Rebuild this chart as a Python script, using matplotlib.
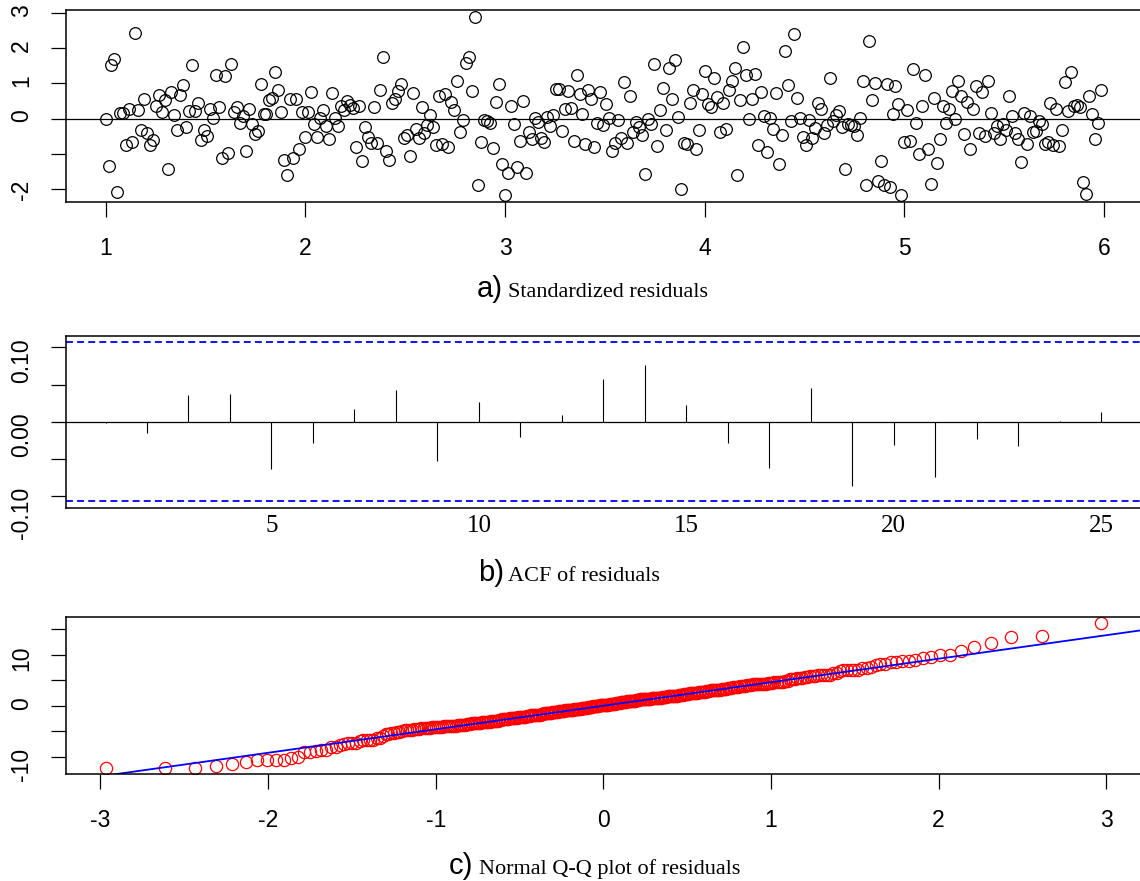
import numpy as np
import matplotlib
matplotlib.use("Agg")
import matplotlib.pyplot as plt
from statistics import NormalDist

# standardized residuals (panel a), in time order
std_resid = [
    0.00, -1.33, 1.53, 1.70, -2.08, 0.17, 0.17, -0.74, 0.26, -0.66,
    2.44, 0.24, -0.31, 0.56, -0.40, -0.74, -0.61, 0.37, 0.67, 0.20,
    0.52, -1.43, 0.75, 0.09, -0.33, 0.68, 0.94, -0.25, 0.23, 1.53,
    0.23, 0.45, -0.61, -0.32, -0.49, 0.27, 0.03, 1.24, 0.32, -1.12,
    1.21, -0.96, 1.56, 0.18, 0.33, -0.11, 0.08, -0.93, 0.28, -0.15,
    -0.43, -0.34, 0.98, 0.14, 0.14, 0.53, 0.58, 1.32, 0.80, 0.20,
    -1.18, -1.59, 0.55, -1.11, 0.55,
    -0.85, 0.18, -0.53, 0.18, 0.75, -0.15, -0.52, 0.03, 0.24, -0.22,
    -0.58, 0.74, 0.03, -0.21, 0.37, 0.24, 0.49, 0.40, 0.31, -0.81,
    0.36, -1.19, -0.23, -0.52, -0.70, 0.32, -0.70, 0.82, 1.75, -0.92,
    -1.17, 0.43, 0.56, 0.78, 0.99, -0.54, -0.46, -1.05, 0.74, -0.30,
    -0.56, 0.33, -0.42, -0.17, 0.10, -0.25, -0.75, 0.63, -0.73, 0.70,
    -0.80, 0.48, 0.25, 1.08, -0.37, -0.03, 1.59, 1.75, 0.77, 2.87,
    -1.87, -0.66, -0.05, -0.08, -0.11, -0.83, 0.47, 0.99,
    -1.29, -2.17, -1.53, 0.36, -0.14, -1.36, -0.64, 0.49, -1.53, -0.38,
    -0.59, 0.03, -0.10, -0.55, -0.65, 0.05, -0.22, 0.11, 0.84, 0.85,
    -0.36, 0.27, 0.77, 0.31, -0.64, 1.24, 0.70, 0.12, -0.72, 0.82,
    0.55, -0.81, -0.13, 0.75, -0.18, 0.42, 0.03, -0.91, -0.68, -0.05,
    -0.55, 1.04, -0.69, 0.65, -0.37, -0.09, -0.24, -0.47, -1.58, -0.02,
    -0.16, 1.54, -0.77, 0.25, 0.88, -0.31, 1.44, 0.57, 1.67, 0.04,
    -2.00, -0.68, -0.71, 0.43, 0.82, -0.85,
    -0.33, 0.69, 1.35, 0.42, 0.33, 1.14, 0.62, -0.39, 0.43, -0.29,
    0.82, 1.06, 1.44, -1.60, 0.52, 2.03, 1.25, 0.00, 0.56, 1.26,
    -0.74, 0.75, 0.08, -0.94, 0.03, -0.29, 0.74, -1.29, -0.46, 1.92,
    0.96, -0.06, 2.40, 0.58, 0.01, -0.53, -0.76, -0.05, -0.56, -0.26,
    0.44, 0.26, -0.42, -0.19, 1.15, -0.07, 0.09, 0.22, -0.24, -1.43,
    -0.14, -0.19, -0.21, -0.45, 0.02, 1.07, -1.87, 2.19, 0.54, 1.02,
    -1.77, -1.19, -1.89, 0.98, -1.94, 0.12, 0.93, 0.42, -2.17,
    -0.66, 0.24, -0.63, 1.42, -0.11, -0.99, 0.35, 1.23, -0.87, -1.86,
    0.58, -1.27, -0.57, 0.37, -0.12, 0.28, 0.77, -0.01, 1.06, 0.65,
    -0.44, 0.47, -0.85, 0.26, 0.93, -0.42, 0.75, -0.49, 1.08, 0.17,
    -0.42, -0.20, -0.58, -0.15, -0.33, 0.64, 0.07, -0.42, -0.59, -1.22,
    0.17, -0.72, 0.07, -0.37, -0.34, -0.06, -0.14, -0.71, -0.65, 0.43,
    -0.75, 0.26, -0.78, -0.31, 1.04, 0.23, 1.32, 0.35, 0.38, 0.33,
    -1.80, -2.15, 0.63, 0.14, -0.57, -0.12, 0.81,
]
t_start = 1.0
t_end = 5.985

# ACF of residuals (panel b)
acf_lags = list(range(1, 26))
acf_vals = [-0.002, -0.015, 0.036, 0.037, -0.064, -0.029, 0.017, 0.043, -0.053, 0.026,
            -0.020, 0.009, 0.057, 0.076, 0.022, -0.029, -0.062, 0.045, -0.086, -0.032,
            -0.074, -0.023, -0.033, 0.001, 0.013]

# residual scale, so raw residuals = std_resid * sigma (panel c)
sigma = 5.65

# ticks and labels
a_xticks = [1, 2, 3, 4, 5, 6]
a_yticks = [-2, -1, 0, 1, 2, 3]
a_ylabels = ['-2', '', '0', '1', '2', '3']
b_xticks = [5, 10, 15, 20, 25]
b_yticks = [-0.10, -0.05, 0.0, 0.05, 0.10]
b_ylabels = ['-0.10', '', '0.00', '', '0.10']
c_xticks = [-3, -2, -1, 0, 1, 2, 3]
c_yticks = [-10, -5, 0, 5, 10, 15]
c_ylabels = ['-10', '', '0', '', '10', '']

plt.rcParams['font.family'] = ['Liberation Sans', 'DejaVu Sans']
plt.rcParams['lines.scale_dashes'] = False
plt.rcParams['axes.unicode_minus'] = False

W, H = 1140, 881
fig = plt.figure(figsize=(W / 100, H / 100), dpi=100)


def box(l, t, r, b):
    return [l / W, 1 - b / H, (r - l) / W, (b - t) / H]


def rlim(lo, hi):
    # R style 4% axis extension
    d = 0.04 * (hi - lo)
    return lo - d, hi + d


def style(ax):
    for s in ax.spines.values():
        s.set_linewidth(1.1)
    ax.tick_params(length=11, width=0.9, labelsize=16.5, pad=14)
    ax.tick_params(axis='y', labelrotation=90, pad=12.5)


def caption(tag, text, x_tag, x_text, y):
    fig.text(x_tag / W, 1 - y / H, tag, fontsize=21, va='baseline', ha='left')
    fig.text(x_text / W, 1 - y / H, text, fontsize=16, va='baseline', ha='left',
             family='Liberation Serif')


n = len(std_resid)
t = np.linspace(t_start, t_end, n)

# a) standardized residuals
ax1 = fig.add_axes(box(65.7, 10.3, 1141, 202.3))
ax1.plot(t, std_resid, 'o', mfc='none', mec='black', ms=8.4, mew=0.9)
ax1.axhline(0, color='black', lw=0.9)
ax1.set_xlim(rlim(t_start, t_end))
ax1.set_ylim(rlim(min(std_resid), max(std_resid)))
ax1.set_xticks(a_xticks)
ax1.set_yticks(a_yticks)
ax1.set_yticklabels(a_ylabels)
style(ax1)
caption('a)', 'Standardized residuals', 477, 508, 297)

# b) ACF
ci = NormalDist().inv_cdf(0.975) / np.sqrt(n)
ax2 = fig.add_axes(box(65.7, 335.7, 1141, 507.7))
ax2.vlines(acf_lags, 0, acf_vals, color='black', lw=0.8)
ax2.axhline(0, color='black', lw=0.9)
ax2.axhline(ci, color='blue', lw=1.3, ls=(0, (5, 3)))
ax2.axhline(-ci, color='blue', lw=1.3, ls=(0, (5, 3)))
ax2.set_xlim(rlim(1, 25))
ax2.set_ylim(rlim(-ci, ci))
ax2.set_xticks(b_xticks)
ax2.set_yticks(b_yticks)
ax2.set_yticklabels(b_ylabels)
style(ax2)
ax2.tick_params(axis='x', length=0, pad=5)
for lab in ax2.get_xticklabels():
    lab.set_fontfamily('Liberation Serif')
    lab.set_fontsize(18)
caption('b)', 'ACF of residuals', 478, 508, 581)

# c) normal Q-Q plot
resid = np.sort(np.array(std_resid) * sigma)
nd = NormalDist()
theo = np.array([nd.inv_cdf((i - 0.5) / n) for i in range(1, n + 1)])
yq = np.quantile(resid, [0.25, 0.75])
xq = np.array([nd.inv_cdf(0.25), nd.inv_cdf(0.75)])
slope = (yq[1] - yq[0]) / (xq[1] - xq[0])
icpt = yq[0] - slope * xq[0]

ax3 = fig.add_axes(box(65.7, 617.3, 1141, 774.3))
ax3.plot(theo, resid, 'o', mfc='none', mec='red', ms=8.8, mew=0.9)
ax3.axline((0, icpt), slope=slope, color='blue', lw=1.3)
ax3.set_xlim(rlim(theo.min(), theo.max()))
ax3.set_ylim(rlim(resid.min(), resid.max()))
ax3.set_xticks(c_xticks)
ax3.set_yticks(c_yticks)
ax3.set_yticklabels(c_ylabels)
style(ax3)
caption('c)', 'Normal Q-Q plot of residuals', 449, 479, 874)

fig.savefig('out.png', dpi=100)
